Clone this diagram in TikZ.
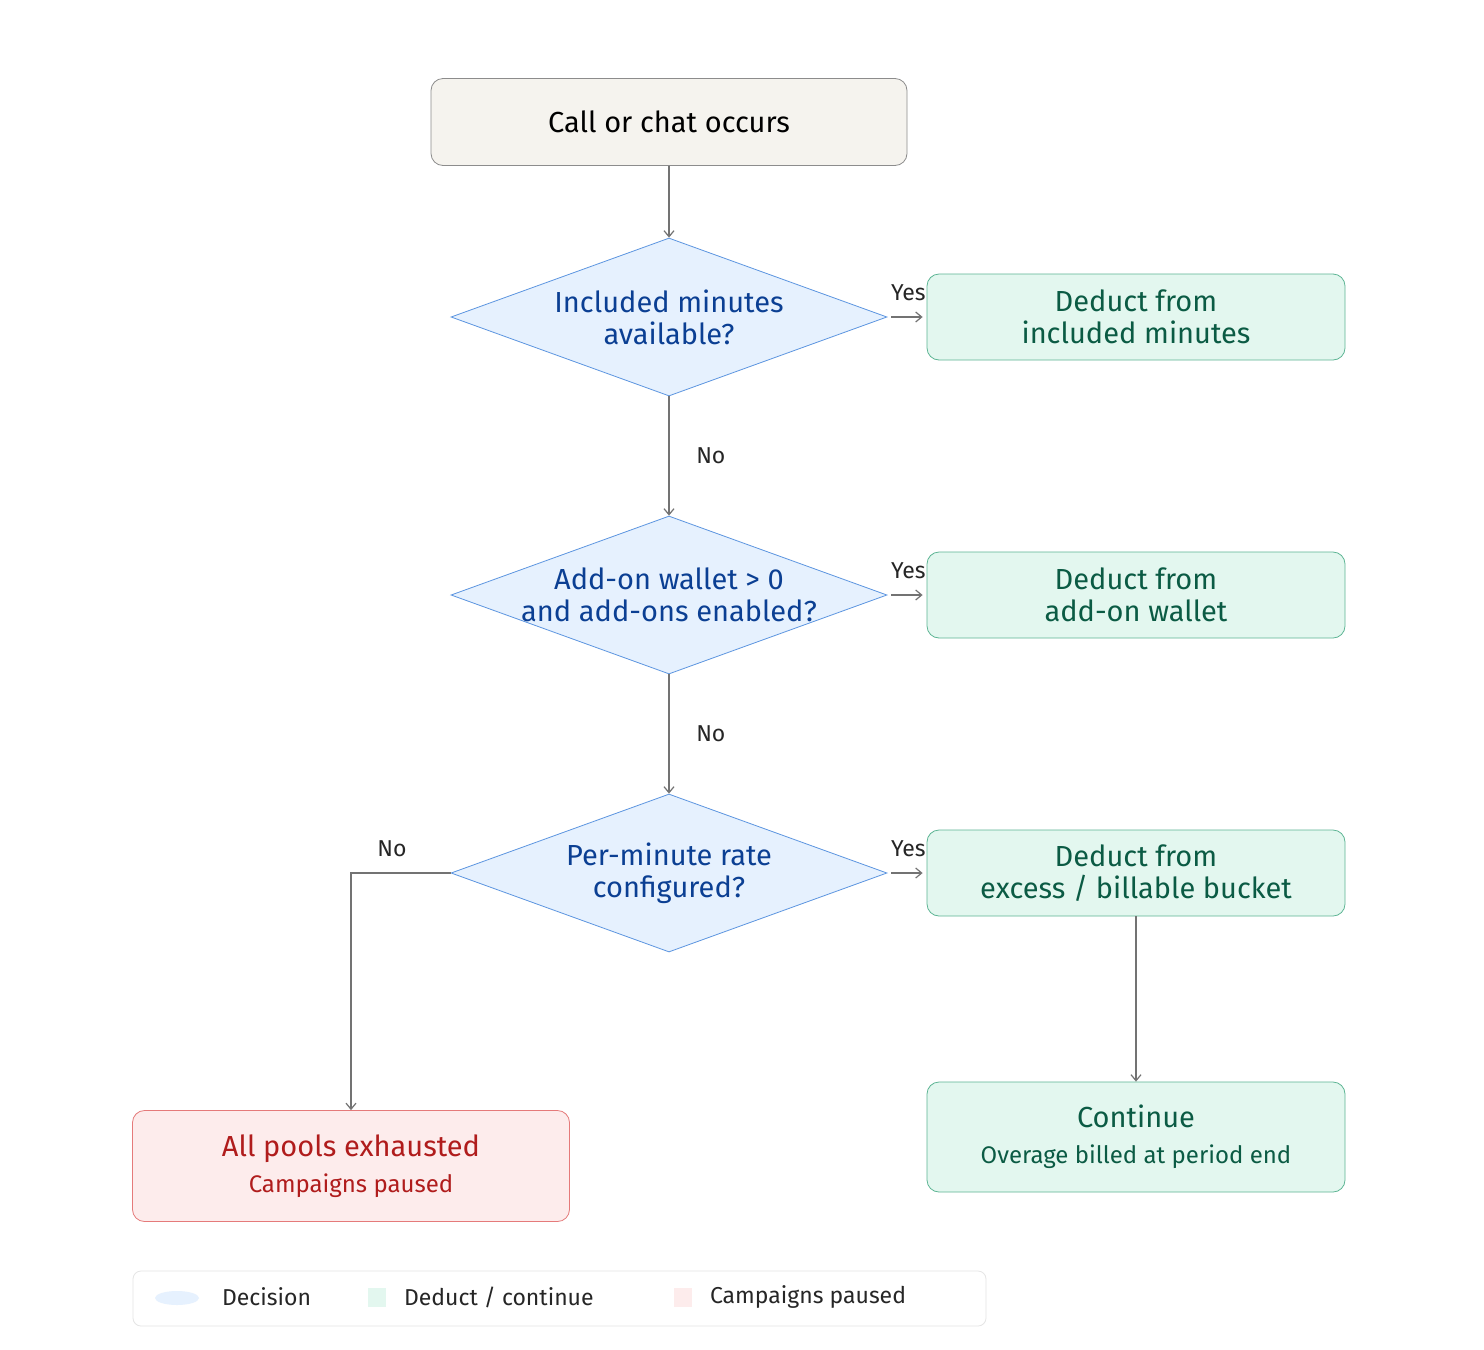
\documentclass[tikz,border=0pt]{standalone}
\usepackage{fontspec}
\setmainfont{Fira Sans}
\usetikzlibrary{shapes.geometric,arrows.meta}
\definecolor{dfill}{HTML}{E6F1FE}\definecolor{dline}{HTML}{5C95E0}\definecolor{dtext}{HTML}{0B3F93}
\definecolor{gfill}{HTML}{E3F7EF}\definecolor{gline}{HTML}{5DB594}\definecolor{gtext}{HTML}{0B5B44}
\definecolor{rfill}{HTML}{FDECEC}\definecolor{rline}{HTML}{E57A7A}\definecolor{rtext}{HTML}{B01C1C}
\definecolor{sfill}{HTML}{F5F3EE}\definecolor{sline}{HTML}{8C8C8C}
\tikzset{
 dec/.style={diamond,aspect=2.76,draw=dline,fill=dfill,minimum width=218pt,minimum height=79pt,inner sep=0pt},
 dtx/.style={text=dtext,align=center,font=\fontsize{14.5}{16}\selectfont},
 box/.style={rounded corners=6pt,draw=gline,fill=gfill,text=gtext,minimum width=209pt,minimum height=43pt,align=center,font=\fontsize{14.5}{16}\selectfont},
 arr/.style={draw=black!55,-{Straight Barb[length=3pt,width=5pt]},line width=0.6pt},
 lab/.style={font=\fontsize{11.5}{13}\selectfont,text=black!85}
}
\begin{document}
\begin{tikzpicture}[x=0.5pt,y=-0.5pt]
\fill[white] (0,0) rectangle (1484,1350);
\node[rounded corners=6pt,draw=sline,fill=sfill,minimum width=238pt,minimum height=43.5pt,font=\fontsize{14.5}{16}\selectfont] (s) at (669,122) {Call or chat occurs};
\node[dec] (d1) at (669,317) {};
\node[dtx] (t1) at (d1) {Included minutes\\available?};
\node[dec] (d2) at (669,595) {};
\node[dtx] (t2) at (d2) {Add-on wallet > 0\\and add-ons enabled?};
\node[dec] (d3) at (669,873) {};
\node[dtx] (t3) at (d3) {Per-minute rate\\configured?};
\node[box] (g1) at (1136,317) {Deduct from\\included minutes};
\node[box] (g2) at (1136,595) {Deduct from\\add-on wallet};
\node[box] (g3) at (1136,873) {Deduct from\\excess / billable bucket};
\node[box,minimum height=55pt] (g4) at (1136,1137) {Continue\\[2pt]{\fontsize{12}{14}\selectfont Overage billed at period end}};
\node[rounded corners=6pt,draw=rline,fill=rfill,text=rtext,minimum width=218.5pt,minimum height=55.5pt,align=center,font=\fontsize{14.5}{16}\selectfont] (r) at (351,1166) {All pools exhausted\\[2pt]{\fontsize{12}{14}\selectfont Campaigns paused}};
\draw[arr] (s) -- (d1.north);
\draw[arr] (d1) -- (d2.north) node[lab,pos=0.5,right=10pt] {No};
\draw[arr] (d2) -- (d3.north) node[lab,pos=0.5,right=10pt] {No};
\foreach \i in {1,2,3}{\draw[arr] ([xshift=2pt]d\i.east) -- ([xshift=-2pt]g\i.west);
 \node[lab] at ([xshift=10.5pt,yshift=12pt]d\i.east) {Yes};}
\coordinate (c) at (351,873);
\draw[arr] (d3.west) -- (c) -- (r.north);
\node[lab] at (392,849) {No};
\draw[arr] (g3) -- (g4);
\node[rounded corners=4pt,draw=black!10,fill=white,minimum width=426.5pt,minimum height=27.5pt] (lg) at (559.5,1298.5) {};
\fill[dfill] (177,1298) ellipse (22 and 7);
\fill[gfill] (368,1288) rectangle (386,1307);
\fill[rfill] (674,1288) rectangle (692,1307);
\node[lab,anchor=west] (l1) at (215,1297) {Decision};
\node[lab,anchor=west] (l2) at (397,1297) {Deduct / continue};
\node[lab,anchor=west] (l3) at (703,1297) {Campaigns paused};
\end{tikzpicture}
\end{document}
